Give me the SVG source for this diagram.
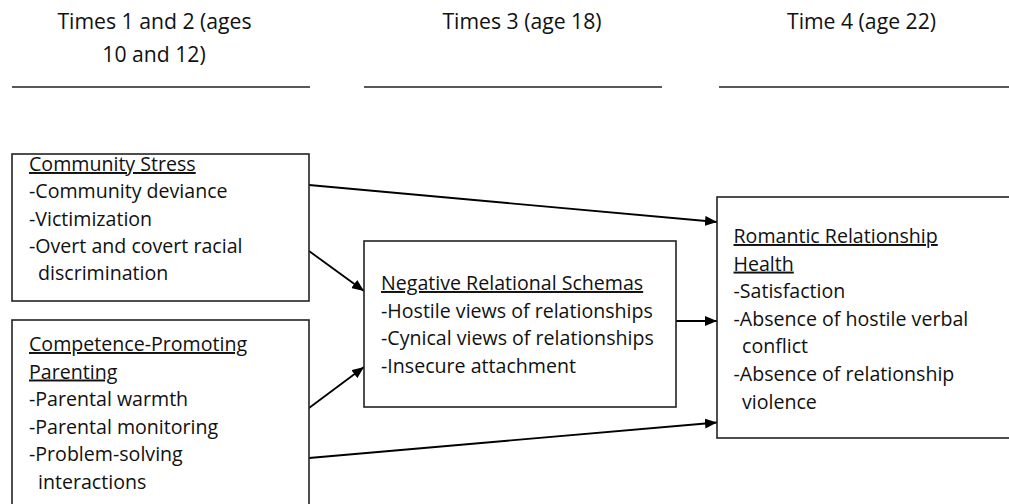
<svg xmlns="http://www.w3.org/2000/svg" width="1009" height="504" viewBox="0 0 1009 504">
<style>
.hdr{font-family:"Open Sans","Noto Sans",sans-serif;font-size:21.2px;fill:#111;text-anchor:middle}
.txt{font-family:"Open Sans","Noto Sans",sans-serif;font-size:19.6px;fill:#111}
.u{text-decoration:underline}
.box{fill:#fff;stroke:#222;stroke-width:1.6}
.rule{stroke:#222;stroke-width:1.6}
.conn{stroke:#000;stroke-width:1.8;fill:none;marker-end:url(#arr)}
</style>
<defs>
<marker id="arr" viewBox="0 0 12 10" refX="12" refY="5" markerWidth="12" markerHeight="10" markerUnits="userSpaceOnUse" orient="auto">
<path d="M0,0 L12,5 L0,10 z" fill="#000"/>
</marker>
</defs>
<rect width="1009" height="504" fill="#fff"/>
<g id="headers">
<text class="hdr" x="154.5" y="28.5">Times 1 and 2 (ages</text>
<text class="hdr" x="154" y="61.5">10 and 12)</text>
<text class="hdr" x="522" y="28.5">Times 3 (age 18)</text>
<text class="hdr" x="861.5" y="28.5">Time 4 (age 22)</text>
<line class="rule" x1="12" y1="87" x2="310" y2="87"/>
<line class="rule" x1="364" y1="87" x2="662" y2="87"/>
<line class="rule" x1="719" y1="87" x2="1009" y2="87"/>
</g>
<g id="connectors">
<line class="conn" x1="309" y1="185" x2="717" y2="222"/>
<line class="conn" x1="309" y1="251" x2="364" y2="291"/>
<line class="conn" x1="309" y1="408" x2="364" y2="367"/>
<line class="conn" x1="676" y1="321" x2="717" y2="321"/>
<line class="conn" x1="309" y1="458" x2="717" y2="422.5"/>
</g>
<g id="community-stress">
<rect class="box" x="12" y="154" width="297" height="147"/>
<text class="txt" x="29" y="171"><tspan class="u">Community Stress</tspan></text>
<text class="txt" x="29" y="198.3">-Community deviance</text>
<text class="txt" x="29" y="225.6">-Victimization</text>
<text class="txt" x="29" y="252.9">-Overt and covert racial</text>
<text class="txt" x="38" y="280.2">discrimination</text>
</g>
<g id="competence-parenting">
<rect class="box" x="12" y="320" width="297" height="200"/>
<text class="txt" x="29" y="351"><tspan class="u">Competence-Promoting</tspan></text>
<text class="txt" x="29" y="378.5"><tspan class="u">Parenting</tspan></text>
<text class="txt" x="29" y="406">-Parental warmth</text>
<text class="txt" x="29" y="433.5">-Parental monitoring</text>
<text class="txt" x="29" y="461">-Problem-solving</text>
<text class="txt" x="38" y="488.5">interactions</text>
</g>
<g id="negative-schemas">
<rect class="box" x="364" y="241" width="312" height="166"/>
<text class="txt" x="381" y="290"><tspan class="u">Negative Relational Schemas</tspan></text>
<text class="txt" x="381" y="317.5">-Hostile views of relationships</text>
<text class="txt" x="381" y="345">-Cynical views of relationships</text>
<text class="txt" x="381" y="372.5">-Insecure attachment</text>
</g>
<g id="romantic-health">
<rect class="box" x="717" y="197" width="300" height="241"/>
<text class="txt" x="733.5" y="243"><tspan class="u">Romantic Relationship</tspan></text>
<text class="txt" x="733.5" y="270.6"><tspan class="u">Health</tspan></text>
<text class="txt" x="733.5" y="298.2">-Satisfaction</text>
<text class="txt" x="733.5" y="325.8">-Absence of hostile verbal</text>
<text class="txt" x="742" y="353.4">conflict</text>
<text class="txt" x="733.5" y="381">-Absence of relationship</text>
<text class="txt" x="742" y="408.6">violence</text>
</g>
</svg>
